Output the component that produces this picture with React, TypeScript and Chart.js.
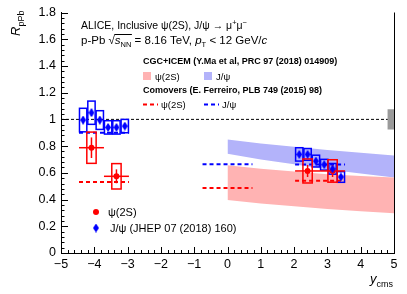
import React, { useEffect, useRef } from 'react';
import { Chart, registerables } from 'chart.js';
Chart.register(...registerables);

const FONT = "'Liberation Sans', Arial, Helvetica, sans-serif";

// ALICE J/psi (JHEP 07 (2018) 160)
const jpsiBwdY = [-4.335, -4.085, -3.835, -3.585, -3.335, -3.085];
const jpsiBwdR = [0.995, 1.05, 0.995, 0.94, 0.94, 0.95];
const jpsiBwdStat = [0.025, 0.025, 0.025, 0.02, 0.02, 0.02];
const jpsiBwdSyst = [0.088, 0.087, 0.07, 0.05, 0.05, 0.05];
const jpsiFwdY = [2.155, 2.405, 2.655, 2.905, 3.155, 3.405];
const jpsiFwdR = [0.738, 0.738, 0.688, 0.661, 0.63, 0.569];
const jpsiFwdStat = [0.015, 0.015, 0.015, 0.015, 0.015, 0.015];
const jpsiFwdSyst = [0.05, 0.044, 0.044, 0.04, 0.04, 0.04];

// ALICE psi(2S)
const psiY = [-4.085, -3.335, 2.405, 3.155];
const psiYErr = [0.375, 0.375, 0.375, 0.375];
const psiR = [0.788, 0.574, 0.614, 0.614];
const psiStat = [0.077, 0.052, 0.045, 0.045];
const psiSyst = [0.117, 0.095, 0.09, 0.084];

// CGC+ICEM bands
const bandY = [0, 1, 2, 3, 4, 5];
const cgcJpsiHi = [0.849, 0.82, 0.795, 0.77, 0.75, 0.73];
const cgcJpsiLo = [0.743, 0.7, 0.665, 0.625, 0.595, 0.565];
const cgcPsiHi = [0.656, 0.63, 0.61, 0.59, 0.577, 0.565];
const cgcPsiLo = [0.396, 0.37, 0.35, 0.33, 0.312, 0.297];

// Comovers
const comoverFrom = [-4.46, -0.75, 2.03];
const comoverTo = [-2.96, 0.75, 3.53];
const comoverJpsi = [0.9, 0.665, 0.663];
const comoverPsi = [0.532, 0.487, 0.54];

// global uncertainty box at unity
const globalX = [4.8, 5];
const globalUnc = 0.075;

const RED = '#ff0000';
const BLUE = '#0000ff';
const BAND_RED = '#ffb3b3';
const BAND_BLUE = '#b3b3fa';

type Seg = { t: string; size: number; style?: string; dy?: number };

function drawRich(ctx: CanvasRenderingContext2D, x: number, y: number, segs: Seg[]) {
  let cx = x;
  const pos: number[] = [];
  for (const s of segs) {
    ctx.font = `${s.style ?? ''} ${s.size}px ${FONT}`;
    pos.push(cx);
    ctx.fillText(s.t, cx, y + (s.dy ?? 0));
    cx += ctx.measureText(s.t).width;
  }
  pos.push(cx);
  return pos;
}

export default function App() {
  const ref = useRef<HTMLCanvasElement | null>(null);
  useEffect(() => {
    document.body.style.margin = '0';
    const canvas = ref.current!;

    const dia = document.createElement('canvas');
    dia.width = 6; dia.height = 9;
    const dc = dia.getContext('2d')!;
    dc.fillStyle = BLUE;
    dc.beginPath(); dc.moveTo(3, 0); dc.lineTo(6, 4.5); dc.lineTo(3, 9); dc.lineTo(0, 4.5); dc.closePath(); dc.fill();

    const line = (xs: number[], ys: number[]) => xs.map((x, i) => ({ x, y: ys[i] }));

    const datasets: any[] = [];
    // bands
    datasets.push({ data: line(bandY, cgcJpsiHi), showLine: true, pointRadius: 0, borderWidth: 0, backgroundColor: BAND_BLUE, fill: '+1', order: 20 });
    datasets.push({ data: line(bandY, cgcJpsiLo), showLine: true, pointRadius: 0, borderWidth: 0, fill: false, order: 20 });
    datasets.push({ data: line(bandY, cgcPsiHi), showLine: true, pointRadius: 0, borderWidth: 0, backgroundColor: BAND_RED, fill: '+1', order: 19 });
    datasets.push({ data: line(bandY, cgcPsiLo), showLine: true, pointRadius: 0, borderWidth: 0, fill: false, order: 19 });
    // comovers
    comoverFrom.forEach((f, i) => {
      datasets.push({ data: line([f, comoverTo[i]], [comoverJpsi[i], comoverJpsi[i]]), showLine: true, pointRadius: 0, borderWidth: 2, borderColor: BLUE, borderDash: [4, 3], fill: false, order: 10 });
      datasets.push({ data: line([f, comoverTo[i]], [comoverPsi[i], comoverPsi[i]]), showLine: true, pointRadius: 0, borderWidth: 2, borderColor: RED, borderDash: [4, 3], fill: false, order: 10 });
    });
    // unity line
    datasets.push({ data: line([-5, 5], [1, 1]), showLine: true, pointRadius: 0, borderWidth: 1, borderColor: '#000', borderDash: [3, 2], fill: false, order: 9 });
    // global box
    datasets.push({ data: line(globalX, [1 + globalUnc, 1 + globalUnc]), showLine: true, pointRadius: 0, borderWidth: 0, backgroundColor: '#9a9a9a', fill: '+1', order: 2 });
    const globalIdx = datasets.length;
    datasets.push({ data: line(globalX, [1 - globalUnc, 1 - globalUnc]), showLine: true, pointRadius: 0, borderWidth: 0, fill: false, order: 1 });
    // markers
    datasets.push({ data: line(jpsiBwdY.concat(jpsiFwdY), jpsiBwdR.concat(jpsiFwdR)), pointStyle: dia, pointRadius: 4, showLine: false, order: 0 });
    datasets.push({ data: line(psiY, psiR), pointStyle: 'circle', pointRadius: 3, backgroundColor: RED, borderColor: RED, borderWidth: 0, showLine: false, order: 0 });

    const overlay = {
      id: 'overlay',
      afterDatasetDraw(chart: any, args: any) {
        if (args.index !== globalIdx) return;
        const ctx: CanvasRenderingContext2D = chart.ctx;
        const xs = chart.scales.x, ys = chart.scales.y;
        ctx.save();
        ctx.lineWidth = 1.5;
        const box = (cx: number, hw: number, r: number, s: number, col: string) => {
          const x1 = xs.getPixelForValue(cx - hw), x2 = xs.getPixelForValue(cx + hw);
          const y1 = ys.getPixelForValue(r + s), y2 = ys.getPixelForValue(r - s);
          ctx.strokeStyle = col;
          ctx.strokeRect(x1, y1, x2 - x1, y2 - y1);
        };
        const seg = (x1: number, y1: number, x2: number, y2: number, col: string) => {
          ctx.strokeStyle = col;
          ctx.beginPath();
          ctx.moveTo(xs.getPixelForValue(x1), ys.getPixelForValue(y1));
          ctx.lineTo(xs.getPixelForValue(x2), ys.getPixelForValue(y2));
          ctx.stroke();
        };
        const jy = jpsiBwdY.concat(jpsiFwdY), jr = jpsiBwdR.concat(jpsiFwdR);
        const jst = jpsiBwdStat.concat(jpsiFwdStat), jsy = jpsiBwdSyst.concat(jpsiFwdSyst);
        jy.forEach((v, i) => {
          box(v, 0.11, jr[i], jsy[i], BLUE);
          seg(v, jr[i] - jst[i], v, jr[i] + jst[i], BLUE);
        });
        psiY.forEach((v, i) => {
          box(v, 0.14, psiR[i], psiSyst[i], RED);
          seg(v, psiR[i] - psiStat[i], v, psiR[i] + psiStat[i], RED);
          seg(v - psiYErr[i], psiR[i], v + psiYErr[i], psiR[i], RED);
        });
        ctx.restore();
      },
      afterDraw(chart: any) {
        const ctx: CanvasRenderingContext2D = chart.ctx;
        const ca = chart.chartArea;
        const xs = chart.scales.x, ys = chart.scales.y;
        ctx.save();
        ctx.strokeStyle = '#000';
        ctx.lineWidth = 1;
        ctx.beginPath();
        ctx.moveTo(Math.round(ca.right) + 0.5, ca.top);
        ctx.lineTo(Math.round(ca.right) + 0.5, ca.bottom);
        for (let i = 0; i <= 50; i++) {
          const px = Math.round(xs.getPixelForValue(-5 + i * 0.2)) + 0.5;
          const len = i % 5 === 0 ? 6 : 3;
          ctx.moveTo(px, ca.bottom); ctx.lineTo(px, ca.bottom - len);
        }
        for (let i = 0; i <= 45; i++) {
          const py = Math.round(ys.getPixelForValue(i * 0.04)) + 0.5;
          const len = i % 5 === 0 ? 7 : 3.5;
          ctx.moveTo(ca.left, py); ctx.lineTo(ca.left + len, py);
        }
        ctx.stroke();

        ctx.fillStyle = '#000';
        ctx.textBaseline = 'alphabetic';
        ctx.textAlign = 'left';
        // title lines
        drawRich(ctx, 81, 29, [
          { t: 'ALICE, Inclusive ψ(2S), J/ψ → μ', size: 10.5 },
          { t: '+', size: 7.5, dy: -4.5 },
          { t: 'μ', size: 10.5 },
          { t: '−', size: 7.5, dy: -4.5 },
        ]);
        const p = drawRich(ctx, 81, 44, [
          { t: 'p-Pb ', size: 11.5 },
          { t: '√', size: 11.5 },
          { t: 's', size: 11.5, style: 'italic' },
          { t: 'NN', size: 7.5, dy: 2.5 },
          { t: ' = 8.16 TeV, ', size: 11.5 },
          { t: 'p', size: 11.5, style: 'italic' },
          { t: 'T', size: 7.5, dy: 2.5 },
          { t: ' < 12 GeV/', size: 11.5 },
          { t: 'c', size: 11.5, style: 'italic' },
        ]);
        ctx.beginPath();
        ctx.moveTo(p[2] - 0.5, 34.5); ctx.lineTo(p[4] + 0.5, 34.5);
        ctx.stroke();

        // model legend
        ctx.font = `bold 9px ${FONT}`;
        ctx.fillText('CGC+ICEM (Y.Ma et al, PRC 97 (2018) 014909)', 143, 64);
        ctx.fillText('Comovers (E. Ferreiro, PLB 749 (2015) 98)', 143, 93);
        ctx.font = `9.5px ${FONT}`;
        ctx.fillStyle = BAND_RED; ctx.fillRect(143, 72, 8, 8);
        ctx.fillStyle = BAND_BLUE; ctx.fillRect(204, 72, 8, 8);
        ctx.fillStyle = '#000';
        ctx.fillText('ψ(2S)', 155, 80);
        ctx.fillText('J/ψ', 216, 80);
        ctx.lineWidth = 2;
        ctx.setLineDash([4, 3]);
        ctx.strokeStyle = RED;
        ctx.beginPath(); ctx.moveTo(143, 104.5); ctx.lineTo(158, 104.5); ctx.stroke();
        ctx.strokeStyle = BLUE;
        ctx.beginPath(); ctx.moveTo(204, 104.5); ctx.lineTo(219, 104.5); ctx.stroke();
        ctx.setLineDash([]);
        ctx.fillText('ψ(2S)', 161, 108);
        ctx.fillText('J/ψ', 222, 108);

        // data legend
        ctx.fillStyle = RED;
        ctx.beginPath(); ctx.arc(96, 212, 3, 0, Math.PI * 2); ctx.fill();
        ctx.drawImage(dia, 93, 223.5);
        ctx.fillStyle = '#000';
        ctx.font = `11px ${FONT}`;
        ctx.fillText('ψ(2S)', 108, 216);
        ctx.fillText('J/ψ (JHEP 07 (2018) 160)', 110, 232);

        // axis titles
        drawRich(ctx, 370, 283, [
          { t: 'y', size: 13, style: 'italic' },
          { t: 'cms', size: 9, dy: 3.5 },
        ]);
        ctx.save();
        ctx.translate(20, 36);
        ctx.rotate(-Math.PI / 2);
        drawRich(ctx, 0, 0, [
          { t: 'R', size: 13, style: 'italic' },
          { t: 'pPb', size: 9, dy: 3.5 },
        ]);
        ctx.restore();
        ctx.restore();
      },
    };

    const chart = new Chart(canvas, {
      type: 'scatter',
      data: { datasets },
      options: {
        animation: false,
        responsive: false,
        devicePixelRatio: 1,
        layout: { padding: { top: 11, right: 13, left: 0, bottom: 0 } },
        plugins: { legend: { display: false }, tooltip: { enabled: false } },
        scales: {
          x: {
            type: 'linear', min: -5, max: 5,
            grid: { display: false, drawTicks: false, tickLength: 0 },
            border: { display: true, color: '#000', width: 1 },
            ticks: {
              stepSize: 1, autoSkip: false, maxRotation: 0, padding: 4, color: '#000',
              font: { family: FONT, size: 12.5 },
              callback: (v: any) => (v < 0 ? '−' + Math.abs(v) : String(v)),
            },
            afterFit: (s: any) => { s.height = 41; },
          },
          y: {
            type: 'linear', min: 0, max: 1.8,
            grid: { display: false, drawTicks: false, tickLength: 0 },
            border: { display: true, color: '#000', width: 1 },
            ticks: {
              stepSize: 0.2, autoSkip: false, padding: 5, color: '#000',
              font: { family: FONT, size: 12.5 },
              callback: (v: any) => {
                const r = Math.round(v * 10) / 10;
                return Number.isInteger(r) ? String(r) : r.toFixed(1);
              },
            },
            afterFit: (s: any) => { s.width = 61; },
          },
        },
      },
      plugins: [overlay],
    } as any);
    return () => chart.destroy();
  }, []);
  return (
    <div style={{ width: 407, height: 294 }}>
      <canvas ref={ref} width={407} height={294} style={{ width: 407, height: 294, display: 'block' }} />
    </div>
  );
}
